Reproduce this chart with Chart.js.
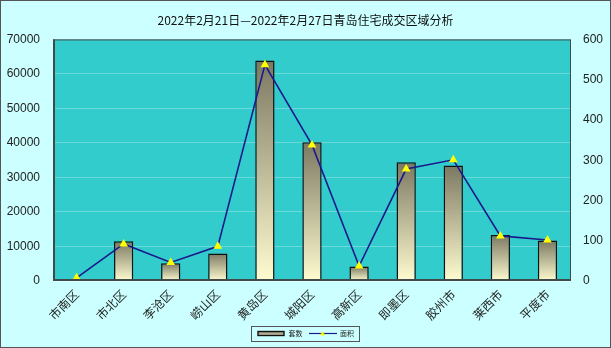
<!DOCTYPE html>
<html>
<head>
<meta charset="utf-8">
<script src="https://cdn.jsdelivr.net/npm/chart.js@4/dist/chart.umd.min.js"></script>
<style>
  html, body { margin: 0; padding: 0; background: #ccffff; }
  #wrap { width: 609px; height: 346px; border: 1px solid #555; background: #ccffff; }
  canvas { display: block; }
</style>
</head>
<body>
<div id="wrap"><canvas id="c" width="609" height="346"></canvas></div>
<script>
// 2022年2月21日—2月27日 青岛各区市住宅成交
const districts = ['市南区', '市北区', '李沧区', '崂山区', '黄岛区', '城阳区', '高新区', '即墨区', '胶州市', '莱西市', '平度市'];
const unitsSold = [500, 11500, 5150, 8000, 63900, 40200, 4200, 34400, 33500, 13300, 11700];
const floorArea = [8, 92, 46, 86, 537, 338, 37, 278, 301, 112, 102];
const leftTicks = [0, 10000, 20000, 30000, 40000, 50000, 60000, 70000];
const rightTicks = [0, 100, 200, 300, 400, 500, 600];

const CJK = '"Noto Sans CJK SC", sans-serif';
const NUM = '"Liberation Sans", Arial, sans-serif';

// bar fill: dark olive at the top fading to cream at the base, per bar
function barFill(ctx) {
  const chart = ctx.chart;
  const y = chart.scales && chart.scales.y;
  if (!y || !chart.chartArea || ctx.dataIndex === undefined) return '#c8c49a';
  const v = ctx.dataset.data[ctx.dataIndex];
  const top = y.getPixelForValue(v);
  const bottom = y.getPixelForValue(0);
  if (bottom - top < 1) return '#7b7862';
  const g = chart.ctx.createLinearGradient(0, top, 0, bottom);
  g.addColorStop(0, '#7b7862');
  g.addColorStop(1, '#fffcd0');
  return g;
}

// legend symbols
function barSymbol() {
  const cv = document.createElement('canvas');
  cv.width = 28; cv.height = 7;
  const c = cv.getContext('2d');
  const g = c.createLinearGradient(0, 0, 0, 7);
  g.addColorStop(0, '#7b7862'); g.addColorStop(1, '#e8e4c0');
  c.fillStyle = g; c.fillRect(1, 1.5, 26, 4);
  c.strokeStyle = '#111'; c.lineWidth = 1.4; c.strokeRect(1, 1.5, 26, 4);
  return cv;
}
function lineSymbol() {
  const cv = document.createElement('canvas');
  cv.width = 28; cv.height = 7;
  const c = cv.getContext('2d');
  c.strokeStyle = '#1a1a8c'; c.lineWidth = 1.2;
  c.beginPath(); c.moveTo(0, 3.5); c.lineTo(28, 3.5); c.stroke();
  c.fillStyle = '#ffff00';
  c.beginPath(); c.moveTo(14, 1); c.lineTo(16.5, 5.5); c.lineTo(11.5, 5.5); c.closePath(); c.fill();
  return cv;
}

const plotFrame = {
  id: 'plotFrame',
  beforeDraw(chart) {
    const { ctx, chartArea: a } = chart;
    ctx.save();
    ctx.fillStyle = '#33cccc';
    ctx.fillRect(a.left, a.top, a.right - a.left, a.bottom - a.top);
    ctx.restore();
  },
  afterDatasetsDraw(chart) {
    const { ctx, chartArea: a } = chart;
    ctx.save();
    ctx.strokeStyle = '#3f4a4a';
    ctx.lineWidth = 1;
    ctx.strokeRect(a.left + 0.5, a.top + 0.5, a.right - a.left - 1, a.bottom - a.top - 1);
    ctx.lineWidth = 2;
    ctx.beginPath();
    ctx.moveTo(a.left + 1, a.top); ctx.lineTo(a.left + 1, a.bottom - 1); ctx.lineTo(a.right, a.bottom - 1);
    ctx.stroke();
    ctx.restore();
  },
  afterDraw(chart) {
    const lg = chart.legend;
    if (!lg || !lg.legendHitBoxes || !lg.legendHitBoxes.length) return;
    const hb = lg.legendHitBoxes;
    const l = hb[0].left - 6, r = hb[hb.length - 1].left + hb[hb.length - 1].width + 5;
    const t = hb[0].top - 4, b = hb[0].top + hb[0].height + 4;
    const ctx = chart.ctx;
    ctx.save();
    ctx.strokeStyle = '#555';
    ctx.lineWidth = 1;
    ctx.strokeRect(Math.round(l) + 0.5, Math.round(t) + 0.5, Math.round(r - l), Math.round(b - t));
    ctx.restore();
  }
};

new Chart(document.getElementById('c'), {
  data: {
    labels: districts,
    datasets: [
      {
        type: 'line',
        label: '面积',
        data: floorArea,
        yAxisID: 'y1',
        borderColor: '#1a1a8c',
        borderWidth: 1.6,
        pointStyle: 'triangle',
        pointRadius: 5,
        pointBackgroundColor: '#ffff00',
        pointBorderColor: '#ffff00',
        pointBorderWidth: 0,
        tension: 0,
        order: 0
      },
      {
        type: 'bar',
        label: '套数',
        data: unitsSold,
        yAxisID: 'y',
        backgroundColor: barFill,
        borderColor: '#111',
        borderWidth: 1.5,
        borderSkipped: false,
        barPercentage: 0.41,
        categoryPercentage: 1,
        order: 1
      }
    ]
  },
  options: {
    responsive: false,
    animation: false,
    devicePixelRatio: 1,
    layout: { padding: { left: 0, right: 0, top: 0, bottom: 0 } },
    plugins: {
      title: {
        display: true,
        text: '2022年2月21日—2022年2月27日青岛住宅成交区域分析',
        color: '#111',
        font: { family: CJK, size: 12, weight: 'normal' },
        padding: { top: 12, bottom: 12 }
      },
      legend: {
        position: 'bottom',
        reverse: true,
        labels: {
          usePointStyle: true,
          pointStyleWidth: 28,
          font: { family: CJK, size: 7 },
          color: '#222',
          padding: 6,
          boxHeight: 7,
          generateLabels(chart) {
            return chart.data.datasets.map((ds, i) => ({
              text: ds.label,
              pointStyle: ds.type === 'bar' ? barSymbol() : lineSymbol(),
              datasetIndex: i,
              fontColor: '#222',
              lineWidth: 0,
              strokeStyle: 'transparent',
              fillStyle: 'transparent'
            }));
          }
        }
      },
      tooltip: { enabled: false }
    },
    scales: {
      x: {
        offset: true,
        grid: { display: false, drawTicks: false },
        border: { display: false },
        ticks: {
          maxRotation: 45, minRotation: 45, autoSkip: false, padding: 6,
          color: '#222', font: { family: CJK, size: 12 }
        },
        afterFit(s) { s.height = 43; }
      },
      y: {
        position: 'left',
        min: 0, max: 70000,
        afterBuildTicks(s) { s.ticks = leftTicks.map(v => ({ value: v })); },
        grid: { color: 'rgba(255,255,255,0.28)', drawTicks: false, lineWidth: 1 },
        border: { display: false },
        ticks: { padding: 13, color: '#222', font: { family: NUM, size: 12 }, callback: v => String(v) },
        afterFit(s) { s.width = 52; }
      },
      y1: {
        position: 'right',
        min: 0, max: 600,
        afterBuildTicks(s) { s.ticks = rightTicks.map(v => ({ value: v })); },
        grid: { drawOnChartArea: false, drawTicks: false },
        border: { display: false },
        ticks: { padding: 12, color: '#222', font: { family: NUM, size: 12 }, callback: v => String(v) },
        afterFit(s) { s.width = 39; }
      }
    }
  },
  plugins: [plotFrame]
});
</script>
</body>
</html>
